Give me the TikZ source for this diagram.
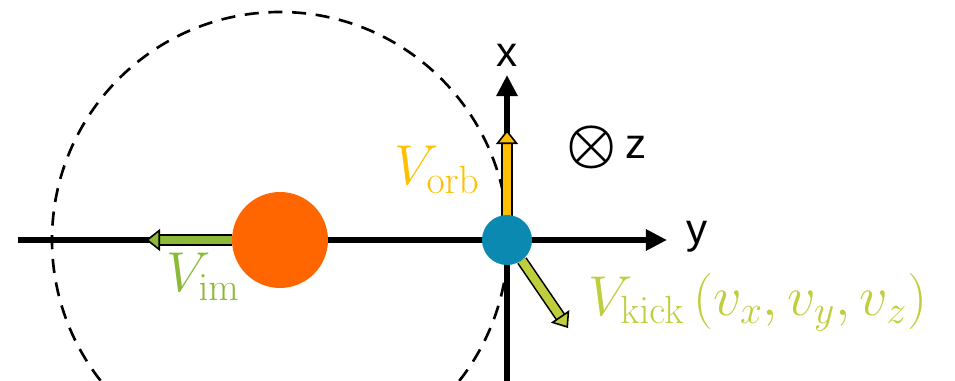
\RequirePackage{fix-cm}
\documentclass[tikz,border=0pt]{standalone}
\usepackage[no-math]{fontspec}
\setmainfont{Liberation Sans}
\usetikzlibrary{arrows.meta,positioning}
\definecolor{hostorange}{HTML}{FF6600}
\definecolor{satblue}{HTML}{0B89B0}
\definecolor{orbyellow}{HTML}{FFC000}
\definecolor{imgreen}{HTML}{8CBA38}
\definecolor{kickgreen}{HTML}{BFCE3C}
\tikzset{
  axisarr/.style={line width=3.2pt, -{Triangle[length=12pt,width=11.5pt]}},
  vecarr/.style={draw=black, line width=0.9pt, double=#1, double distance=4.6pt,
    -{Triangle[length=8pt,width=12.5pt,fill=#1,line width=0.9pt]}},
  body/.style={circle, inner sep=0pt, fill=#1},
}
\begin{document}
\begin{tikzpicture}[
  x=0.02cm, y=0.02cm,
  font=\fontsize{24}{26}\selectfont,
  lbl/.style={font=\fontsize{32}{35}\selectfont},
]
  \useasboundingbox (0,0) rectangle (955,381);
  % axes
  \coordinate (yleft) at (18,141);
  \coordinate (ytip) at (667,141);
  \coordinate (xbot) at (507,0);
  \coordinate (xtip) at (507,306);
  \draw[axisarr] (yleft) -- (ytip);
  \draw[axisarr] (xbot) -- (xtip);
  \node (xl) at (507,326) {x};
  \node (yl) at (697,144) {y};
  \node[font=\fontsize{32}{34}\selectfont\boldmath, inner sep=0pt] (zsym) at (592,234) {$\otimes$};
  \node[right=1pt of zsym] (zl) {z};
  % bodies
  \node[body=hostorange, minimum size=1.92cm] (host) at (280,141) {};
  \draw[dashed, line width=1.5pt, dash pattern=on 8pt off 5.5pt] (host.center) circle (228);
  \coordinate (orbtip) at (507,251);
  \coordinate (imtip) at (146,141);
  \coordinate (kicktip) at (568,53);
  \draw[vecarr=orbyellow] (507,160) -- (orbtip);
  \node[body=satblue, minimum size=1.0cm] (sat) at (507,141) {};
  \draw[vecarr=imgreen] (host.west) -- (imtip);
  \draw[vecarr=kickgreen] (sat.-54) -- (kicktip);
  % labels
  \node[lbl, text=orbyellow, anchor=east, inner sep=0pt] (vorb) at (480,211) {$V_{\mathrm{orb}}$};
  \node[lbl, text=imgreen, inner sep=0pt] (vim) at (203,104) {$V_{\mathrm{im}}$};
  \node[lbl, text=kickgreen, anchor=west, inner sep=0pt] (vkick) at (588,79)
    {$V_{\mathrm{kick}}\,\Bigl(v_x,v_y,v_z\Bigr)$};
\end{tikzpicture}
\end{document}
